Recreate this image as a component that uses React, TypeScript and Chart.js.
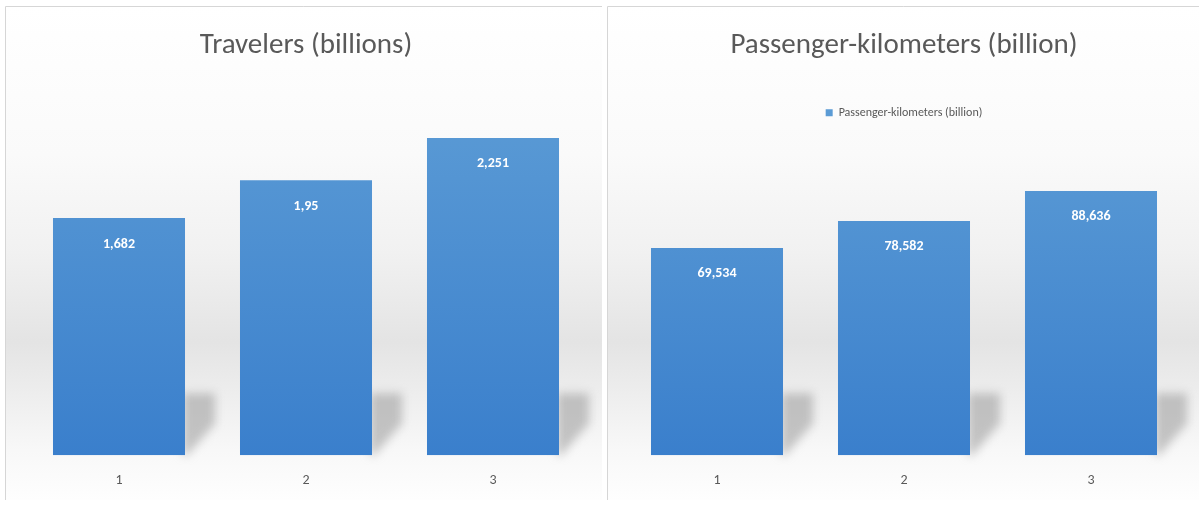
import React, { useEffect, useRef } from "react";
import { Chart, registerables } from "chart.js";

Chart.register(...registerables);

const categories = ["1", "2", "3"];
const travelersTitle = "Travelers (billions)";
const travelersValues = [1.682, 1.95, 2.251];
const travelersLabels = ["1,682", "1,95", "2,251"];
const pkmTitle = "Passenger-kilometers (billion)";
const pkmSeries = "Passenger-kilometers (billion)";
const pkmValues = [69.534, 78.582, 88.636];
const pkmLabels = ["69,534", "78,582", "88,636"];

const FONT = 'Carlito, "Liberation Sans Narrow", Lato, sans-serif';

function panelPlugin(leftEdge: number, rightEdge: number, labels: string[]) {
  return {
    id: "panel",
    beforeDraw(chart: any) {
      const ctx = chart.ctx;
      const h = chart.height;
      ctx.save();
      const g = ctx.createLinearGradient(0, 6, 0, 500);
      g.addColorStop(0, "#ffffff");
      g.addColorStop(0.3, "#fafafa");
      g.addColorStop(0.5, "#f1f1f1");
      g.addColorStop(0.68, "#e4e4e4");
      g.addColorStop(0.77, "#ececec");
      g.addColorStop(0.9, "#f8f8f8");
      g.addColorStop(1, "#fefefe");
      ctx.fillStyle = "#ffffff";
      ctx.fillRect(0, 0, chart.width, h);
      ctx.fillStyle = g;
      ctx.fillRect(leftEdge, 6, rightEdge - leftEdge, 494);
      ctx.strokeStyle = "#d6d6d6";
      ctx.lineWidth = 1;
      ctx.beginPath();
      ctx.moveTo(leftEdge + 0.5, 500);
      ctx.lineTo(leftEdge + 0.5, 6.5);
      ctx.lineTo(rightEdge, 6.5);
      ctx.stroke();
      ctx.restore();
    },
    beforeDatasetsDraw(chart: any) {
      const ctx = chart.ctx;
      const meta = chart.getDatasetMeta(0);
      ctx.save();
      ctx.filter = "blur(5px)";
      ctx.fillStyle = "rgba(160,160,160,0.6)";
      meta.data.forEach((bar: any) => {
        const r = bar.x + bar.width / 2;
        const b = bar.base;
        ctx.beginPath();
        ctx.moveTo(r - 2, b - 62);
        ctx.lineTo(r + 30, b - 62);
        ctx.lineTo(r + 30, b - 32);
        ctx.lineTo(r + 2, b);
        ctx.lineTo(r - 2, b);
        ctx.closePath();
        ctx.fill();
      });
      ctx.restore();
    },
    afterDatasetsDraw(chart: any) {
      const ctx = chart.ctx;
      const meta = chart.getDatasetMeta(0);
      ctx.save();
      ctx.fillStyle = "#ffffff";
      ctx.font = "bold 14px " + FONT;
      ctx.textAlign = "center";
      ctx.textBaseline = "middle";
      meta.data.forEach((bar: any, i: number) => {
        ctx.fillText(labels[i], bar.x, bar.y + 26);
      });
      ctx.restore();
    },
  };
}

function barGradient(context: any) {
  const chart = context.chart;
  const area = chart.chartArea;
  if (!area) return "#4a8fd3";
  const g = chart.ctx.createLinearGradient(0, area.top, 0, area.bottom);
  g.addColorStop(0, "#5b9bd5");
  g.addColorStop(1, "#3a7fcc");
  return g;
}

function makeConfig(
  title: string,
  values: number[],
  labels: string[],
  max: number,
  showLegend: boolean,
  padL: number,
  padR: number,
  leftEdge: number,
  rightEdge: number
): any {
  return {
    type: "bar",
    data: {
      labels: categories,
      datasets: [
        {
          label: pkmSeries,
          data: values,
          backgroundColor: barGradient,
          borderWidth: 0,
          categoryPercentage: 1,
          barPercentage: 0.706,
        },
      ],
    },
    options: {
      responsive: false,
      animation: false,
      layout: { padding: { left: padL, right: padR, top: 6, bottom: 0 } },
      plugins: {
        title: {
          display: true,
          text: title,
          color: "#595959",
          font: { family: FONT, size: 29, weight: "normal" },
          padding: { top: 22, bottom: showLegend ? 34 : 40 },
        },
        legend: {
          display: showLegend,
          labels: {
            color: "#595959",
            font: { family: FONT, size: 12 },
            usePointStyle: true,
            pointStyle: "rect",
            boxWidth: 7,
            boxHeight: 7,
            padding: 10,
          },
        },
        tooltip: { enabled: false },
      },
      scales: {
        x: {
          grid: { display: false, drawTicks: false },
          border: { display: false },
          ticks: {
            color: "#595959",
            font: { family: FONT, size: 14 },
            padding: 17,
          },
        },
        y: {
          display: false,
          min: 0,
          max: max,
        },
      },
    },
    plugins: [panelPlugin(leftEdge, rightEdge, labels)],
  };
}

export default function App() {
  const leftRef = useRef<HTMLCanvasElement>(null);
  const rightRef = useRef<HTMLCanvasElement>(null);

  useEffect(() => {
    document.body.style.margin = "0";
    const c1 = new Chart(
      leftRef.current!,
      makeConfig(travelersTitle, travelersValues, travelersLabels, 2.5, false, 25.5, 15.5, 5, 602)
    );
    const c2 = new Chart(
      rightRef.current!,
      makeConfig(pkmTitle, pkmValues, pkmLabels, 109.5, true, 21.5, 19.5, 5, 597)
    );
    return () => {
      c1.destroy();
      c2.destroy();
    };
  }, []);

  return (
    <div style={{ position: "relative", width: 1204, height: 506, background: "#ffffff" }}>
      <canvas
        ref={leftRef}
        width={602}
        height={506}
        style={{ position: "absolute", left: 0, top: 0, width: 602, height: 506 }}
      />
      <canvas
        ref={rightRef}
        width={602}
        height={506}
        style={{ position: "absolute", left: 602, top: 0, width: 602, height: 506 }}
      />
    </div>
  );
}
